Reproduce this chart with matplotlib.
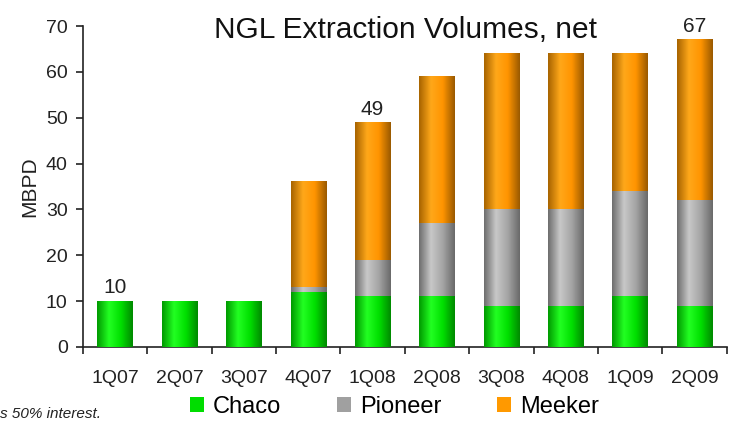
import matplotlib
matplotlib.use("Agg")
import matplotlib.pyplot as plt
import numpy as np
from matplotlib.colors import LinearSegmentedColormap
from matplotlib.patches import Patch

plt.rcParams['font.family'] = ['Liberation Sans', 'DejaVu Sans']

quarters = ["1Q07", "2Q07", "3Q07", "4Q07", "1Q08", "2Q08", "3Q08", "4Q08", "1Q09", "2Q09"]
chaco = [10, 10, 10, 12, 11, 11, 9, 9, 11, 9]
pioneer = [0, 0, 0, 1, 8, 16, 21, 21, 23, 23]
meeker = [0, 0, 0, 23, 30, 32, 34, 34, 30, 35]
total_labels = {0: "10", 4: "49", 9: "67"}
series_names = ["Chaco", "Pioneer", "Meeker"]
yticks = [0, 10, 20, 30, 40, 50, 60, 70]

colors = {
    "Chaco": ["#009a00", "#22ff22", "#00e000", "#008a00"],
    "Pioneer": ["#6e6e6e", "#c8c8c8", "#a4a4a4", "#6a6a6a"],
    "Meeker": ["#a86400", "#ffa81a", "#ff9400", "#9a5a00"],
}
mid = {"Chaco": "#00dd00", "Pioneer": "#a0a0a0", "Meeker": "#ff9900"}

fig = plt.figure(figsize=(7.34, 4.22), dpi=100)
ax = fig.add_axes([0.113, 0.178, 0.877, 0.760])

x = np.arange(len(quarters))
w = 0.55
bottom = np.zeros(len(quarters))
for name, vals in zip(series_names, [chaco, pioneer, meeker]):
    vals = np.array(vals, dtype=float)
    bars = ax.bar(x, vals, w, bottom=bottom, color=mid[name], linewidth=0, zorder=2)
    cmap = LinearSegmentedColormap.from_list(name, colors[name])
    grad = np.linspace(0, 1, 64).reshape(1, -1)
    for p in bars:
        if p.get_height() <= 0:
            continue
        x0, y0 = p.get_x(), p.get_y()
        ax.imshow(grad, extent=(x0, x0 + p.get_width(), y0, y0 + p.get_height()),
                  cmap=cmap, aspect='auto', zorder=3, interpolation='bicubic')
    bottom += vals

for i, txt in total_labels.items():
    ax.text(x[i], bottom[i] + 0.8, txt, ha='center', va='bottom', fontsize=15, color='#222222')

ax.set_xlim(-0.5, len(quarters) - 0.5)
ax.set_ylim(0, 70)
ax.set_yticks(yticks)
ax.set_yticklabels([str(v) for v in yticks], fontsize=14, color='#222222')
ax.set_xticks(x)
ax.set_xticklabels(quarters, fontsize=14, color='#222222')
ax.set_xticks(np.arange(-0.5, len(quarters)), minor=True)
ax.tick_params(axis='x', which='major', length=0, pad=17)
ax.tick_params(axis='x', which='minor', length=5, width=1.2, direction='out', color='#222222')
ax.tick_params(axis='y', length=5, width=1.2, direction='out', pad=6, color='#222222')
for s in ['top', 'right']:
    ax.spines[s].set_visible(False)
for s in ['left', 'bottom']:
    ax.spines[s].set_linewidth(1.2)
    ax.spines[s].set_color('#222222')
ax.set_ylabel("MBPD", fontsize=15, color='#222222', labelpad=5)

fig.text(0.552, 1 - 38 / 422, "NGL Extraction Volumes, net", ha='center', va='baseline',
         fontsize=21.5, color='#111111')

handles = [Patch(facecolor=mid[n], edgecolor='none') for n in series_names]
fig.legend(handles, series_names, loc='center', bbox_to_anchor=(0.537, 0.036), ncol=3,
           frameon=False, fontsize=17, handlelength=0.6, handleheight=0.6,
           handletextpad=0.38, columnspacing=2.35, borderpad=0)

fig.text(0.0, 0.002, "s 50% interest.", fontsize=11, style='italic', ha='left', va='bottom',
         color='#222222')

fig.savefig("out.png", dpi=100)
